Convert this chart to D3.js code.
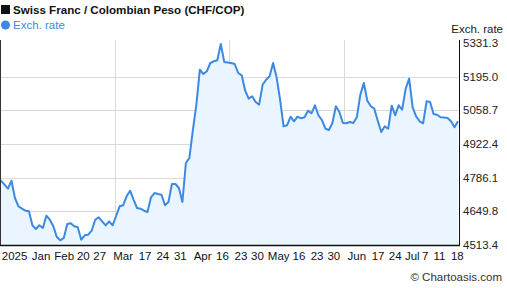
<!DOCTYPE html>
<html>
<head>
<meta charset="utf-8">
<script src="https://cdn.jsdelivr.net/npm/d3@7"></script>
<style>
  body { margin: 0; background: #fff; }
  svg { display: block; font-family: Arial, "Liberation Sans", sans-serif; }
</style>
</head>
<body>
<svg id="chart" width="507" height="288"></svg>
<script>
// CHF/COP daily rate
const rates = [
  4773.8, 4757.6, 4741.4, 4773.8, 4703.7, 4670.1, 4660.4, 4652.3, 4649.9, 4593.2,
  4578.2, 4593.2, 4582.2, 4632.0, 4615.8, 4589.1, 4545.8, 4532.4, 4541.7, 4598.4,
  4601.3, 4589.1, 4585.1, 4534.9, 4552.7, 4555.1, 4571.3, 4615.8, 4625.6, 4609.4,
  4593.2, 4609.4, 4593.2, 4630.8, 4670.1, 4674.1, 4710.6, 4733.3, 4696.8, 4663.2,
  4660.4, 4652.3, 4647.0, 4706.5, 4723.9, 4719.9, 4717.1, 4674.1, 4687.5, 4760.4,
  4760.4, 4744.2, 4687.5, 4845.4, 4865.7, 4979.0, 5081.5, 5223.2, 5205.8, 5216.7,
  5250.3, 5257.2, 5261.3, 5327.2, 5254.4, 5252.4, 5250.3, 5246.3, 5209.8, 5200.5,
  5138.2, 5105.8, 5115.5, 5092.4, 5081.5, 5162.5, 5182.7, 5196.5, 5250.3, 5192.4,
  5101.7, 4994.0, 4998.1, 5032.9, 5014.3, 5032.9, 5026.4, 5030.5, 5057.2, 5046.7,
  5079.0, 5038.6, 5019.5, 4984.3, 4979.0, 5007.4, 5075.0, 5051.9, 5007.4, 5006.2,
  5011.4, 5007.4, 5030.5, 5122.0, 5169.3, 5097.7, 5075.0, 5065.3, 5016.7, 4970.9,
  4994.0, 4984.3, 5077.4, 5038.6, 5079.0, 5061.2, 5146.3, 5186.8, 5070.9, 5034.5,
  5014.3, 5006.2, 5095.2, 5092.4, 5043.8, 5041.0, 5030.5, 5029.2, 5027.6, 5014.3,
  4990.0, 5014.3
];

const yTicks = [4513.4, 4649.8, 4786.1, 4922.4, 5058.7, 5195.0, 5331.3];

// x labels and where they sit, in data-index units
const xLabels = ['2025', 'Jan', 'Feb', '20', '27', 'Mar', '17', '24', '31', 'Apr', '16', '23',
  '30', 'May', '16', '23', '30', 'Jun', '17', '24', 'Jul', '7', '11', '18'];
const xLabelPos = [3.9, 11.5, 18.1, 23.6, 28.3, 35.0, 41.3, 46.4, 51.4, 57.8, 63.5, 68.8,
  73.5, 79.6, 85.4, 90.6, 95.4, 102.0, 108.1, 113.0, 117.9, 121.6, 125.7, 130.8];

const title = 'Swiss Franc / Colombian Peso (CHF/COP)';
const seriesName = 'Exch. rate';

const svg = d3.select('#chart');
const plot = { left: 1, right: 458, top: 43, bottom: 245 };
const lineColor = '#3b89e3';

const x = d3.scaleLinear().domain([0, rates.length - 1]).range([plot.left, plot.right]);
const y = d3.scaleLinear().domain([yTicks[0], yTicks[yTicks.length - 1]]).range([plot.bottom, plot.top]);

// Gridlines
const grid = svg.append('g');
grid.selectAll('.hgrid')
    .data(yTicks.slice(1, -1))
    .enter().append('line')
    .attr('x1', plot.left).attr('x2', plot.right)
    .attr('y1', d => Math.round(y(d)) + 0.5).attr('y2', d => Math.round(y(d)) + 0.5)
    .style('stroke', '#d9d9d9');

// vertical gridlines split the plot in four
const vx = d3.scaleLinear().domain([0, 4]).range([0, plot.right]);
grid.selectAll('.vgrid')
    .data([1, 2, 3])
    .enter().append('line')
    .attr('x1', d => Math.round(vx(d)) + 0.5).attr('x2', d => Math.round(vx(d)) + 0.5)
    .attr('y1', plot.top - 3).attr('y2', plot.bottom)
    .style('stroke', '#d9d9d9');

// Area + line
svg.append('path')
    .datum(rates)
    .attr('d', d3.area().x((d, i) => x(i)).y0(plot.bottom).y1(d => y(d)))
    .style('fill', '#ebf5ff');

svg.append('path')
    .datum(rates)
    .attr('d', d3.line().x((d, i) => x(i)).y(d => y(d)))
    .style('fill', 'none')
    .style('stroke', lineColor)
    .style('stroke-width', 2)
    .style('stroke-linejoin', 'round');

// Axis frame
svg.append('line')
    .attr('x1', 0.5).attr('x2', 0.5).attr('y1', plot.top - 3).attr('y2', plot.bottom + 1)
    .style('stroke', '#333');
svg.append('line')
    .attr('x1', plot.right + 1.5).attr('x2', plot.right + 1.5).attr('y1', plot.top - 3).attr('y2', plot.bottom + 1)
    .style('stroke', '#111');
svg.append('line')
    .attr('x1', 0).attr('x2', plot.right + 2).attr('y1', plot.bottom + 0.5).attr('y2', plot.bottom + 0.5)
    .style('stroke', '#111').style('stroke-width', 1.5);

// Y axis labels (right)
svg.selectAll('.ylab')
    .data(yTicks)
    .enter().append('text')
    .attr('x', plot.right + 5)
    .attr('y', d => y(d) + 4)
    .text(d => d.toFixed(1))
    .style('font-size', '11.5px')
    .style('fill', '#222');

svg.append('text')
    .attr('x', 503).attr('y', 33)
    .attr('text-anchor', 'end')
    .text(seriesName)
    .style('font-size', '11.5px')
    .style('fill', '#222');

// X axis labels
svg.selectAll('.xlab')
    .data(xLabels)
    .enter().append('text')
    .attr('x', (d, i) => x(xLabelPos[i]))
    .attr('y', 260)
    .attr('text-anchor', 'middle')
    .text(d => d)
    .style('font-size', '11.5px')
    .style('fill', '#111');

// Title + legend
svg.append('rect').attr('x', 1).attr('y', 5).attr('width', 9).attr('height', 9).style('fill', '#111');
svg.append('text')
    .attr('x', 13).attr('y', 14)
    .text(title)
    .style('font-size', '11.6px')
    .style('font-weight', 'bold')
    .style('fill', '#111');

svg.append('circle').attr('cx', 5.5).attr('cy', 25).attr('r', 4.5).style('fill', lineColor);
svg.append('text')
    .attr('x', 13).attr('y', 29)
    .text(seriesName)
    .style('font-size', '11.5px')
    .style('fill', lineColor);

// Credit
svg.append('text')
    .attr('x', 502).attr('y', 281)
    .attr('text-anchor', 'end')
    .text('\u00a9 Chartoasis.com')
    .style('font-size', '11.5px')
    .style('fill', '#333');
</script>
</body>
</html>
